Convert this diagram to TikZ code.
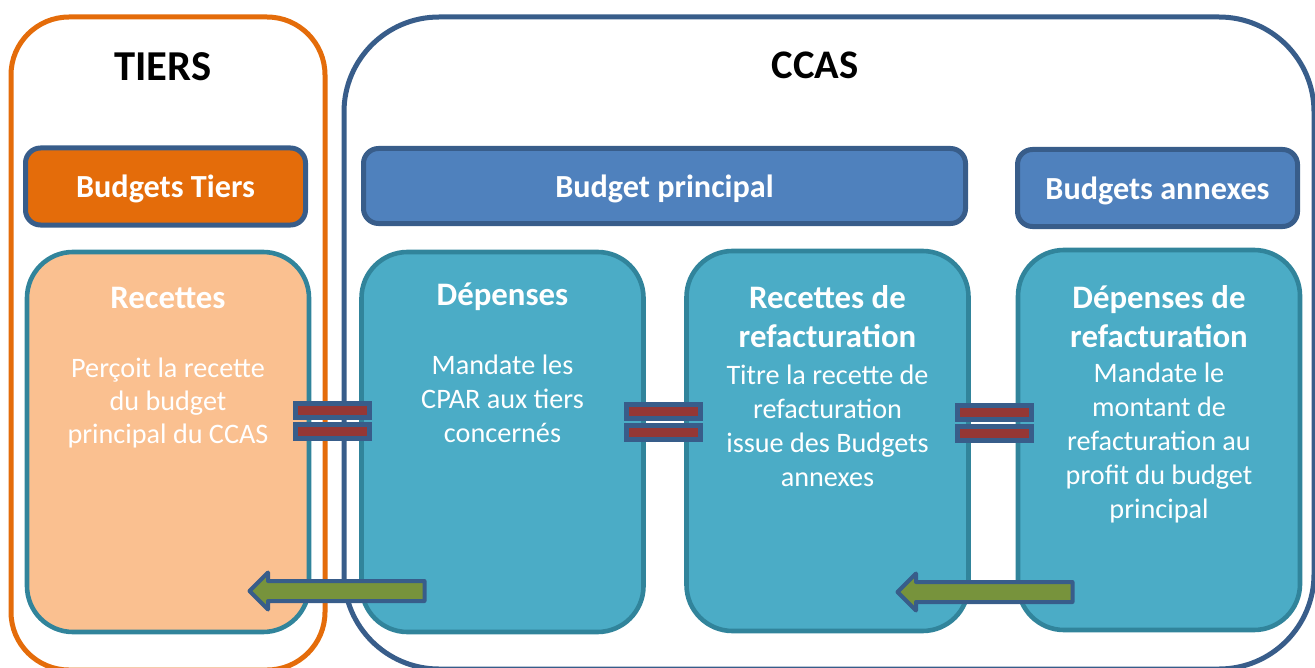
\documentclass[tikz,border=0pt]{standalone}
\usepackage{fontspec}
\setmainfont{Carlito}
\usetikzlibrary{shapes.arrows}

\definecolor{orangeT}{HTML}{E46C0A}
\definecolor{bleuF}{HTML}{385D8A}
\definecolor{bleuC}{HTML}{4F81BD}
\definecolor{sarcelle}{HTML}{4BACC6}
\definecolor{bordS}{HTML}{31849B}
\definecolor{peche}{HTML}{FAC090}
\definecolor{rouge}{HTML}{953735}
\definecolor{vert}{HTML}{77933C}

\begin{document}
\begin{tikzpicture}[x=0.5pt,y=-0.5pt,
    grostitre/.style={font=\fontsize{21.3}{26}\selectfont\bfseries},
    entete/.style={draw=bleuF, fill=bleuC, line width=2.5pt, rounded corners=7.5pt,
        minimum width=140pt, minimum height=38.5pt, inner sep=0pt, text depth=0pt,
        text=white, font=\fontsize{16.1}{19}\selectfont\bfseries},
    bloc/.style={draw=bordS, fill=sarcelle, line width=2.3pt, rounded corners=23pt,
        minimum width=141pt, minimum height=190pt},
    titre/.style={text=white, align=center, anchor=base,
        font=\fontsize{16.4}{19.5}\selectfont\bfseries},
    corps/.style={text=white, align=center, anchor=base,
        font=\fontsize{14.1}{17}\selectfont},
    egal/.style={draw=bleuF, fill=rouge, line width=2.5pt,
        minimum width=37pt, minimum height=7pt, inner sep=0pt},
    fleche/.style={single arrow, shape border rotate=180, draw=bleuF, fill=vert,
        line width=2pt, line join=round, minimum height=87.5pt, inner xsep=0pt, inner ysep=4pt,
        single arrow head extend=4.25pt, single arrow head indent=0pt}]
    \useasboundingbox (0,0) rectangle (1315,668);

    % Cadres
    \draw[orangeT, line width=2.5pt, rounded corners=29pt] (11,17) rectangle (325,670);
    \draw[bleuF, line width=2.5pt, rounded corners=47.5pt] (344,17) rectangle (1314,669);
    \node[grostitre] (tiers) at (163,67) {TIERS};
    \node[grostitre, font=\fontsize{20.3}{24}\selectfont\bfseries] (ccas) at (815,65) {CCAS};

    % Budgets
    \node[entete, fill=orangeT] (btiers) at (165.5,186.5) {Budgets Tiers};
    \node[entete, minimum width=301pt, minimum height=37.5pt] (bprinc) at (664.5,186) {Budget principal};
    \node[entete] (bannexes) at (1157.5,188) {Budgets annexes};

    % Blocs
    \node[bloc, fill=peche] (rec) at (168,442) {};
    \node[bloc] (dep) at (502.5,442) {};
    \node[bloc] (recref) at (827.5,441) {};
    \node[bloc] (depref) at (1159,440) {};

    % Textes (ancre sur la derniere ligne)
    \node[titre] (recT) at (168,308) {Recettes};
    \node[corps, font=\fontsize{14.1}{16.5}\selectfont] (recC) at (168,443) {Perçoit la recette\\du budget\\principal du CCAS};
    \node[titre] (depT) at (502.5,305) {Dépenses};
    \node[corps] (depC) at (502.5,442) {Mandate les\\CPAR aux tiers\\concernés};
    \node[titre] (recrefT) at (827.5,347) {Recettes de\\refacturation};
    \node[corps] (recrefC) at (827.5,486) {Titre la recette de\\refacturation\\issue des Budgets\\annexes};
    \node[titre] (deprefT) at (1159,347) {Dépenses de\\refacturation};
    \node[corps] (deprefC) at (1159,518) {Mandate le\\montant de\\refacturation au\\profit du budget\\principal};

    % Signes egal
    \foreach \n/\x/\y in {1/332.5/410.5, 2/663/411.5, 3/994/412.5} {
        \node[egal] (e\n a) at (\x,\y) {};
        \node[egal] (e\n b) at (\x,\y+21) {};
    }

    % Fleches
    \node[fleche] (f1) at (342,591) {};
    \node[fleche] (f2) at (990,592) {};
\end{tikzpicture}
\end{document}
